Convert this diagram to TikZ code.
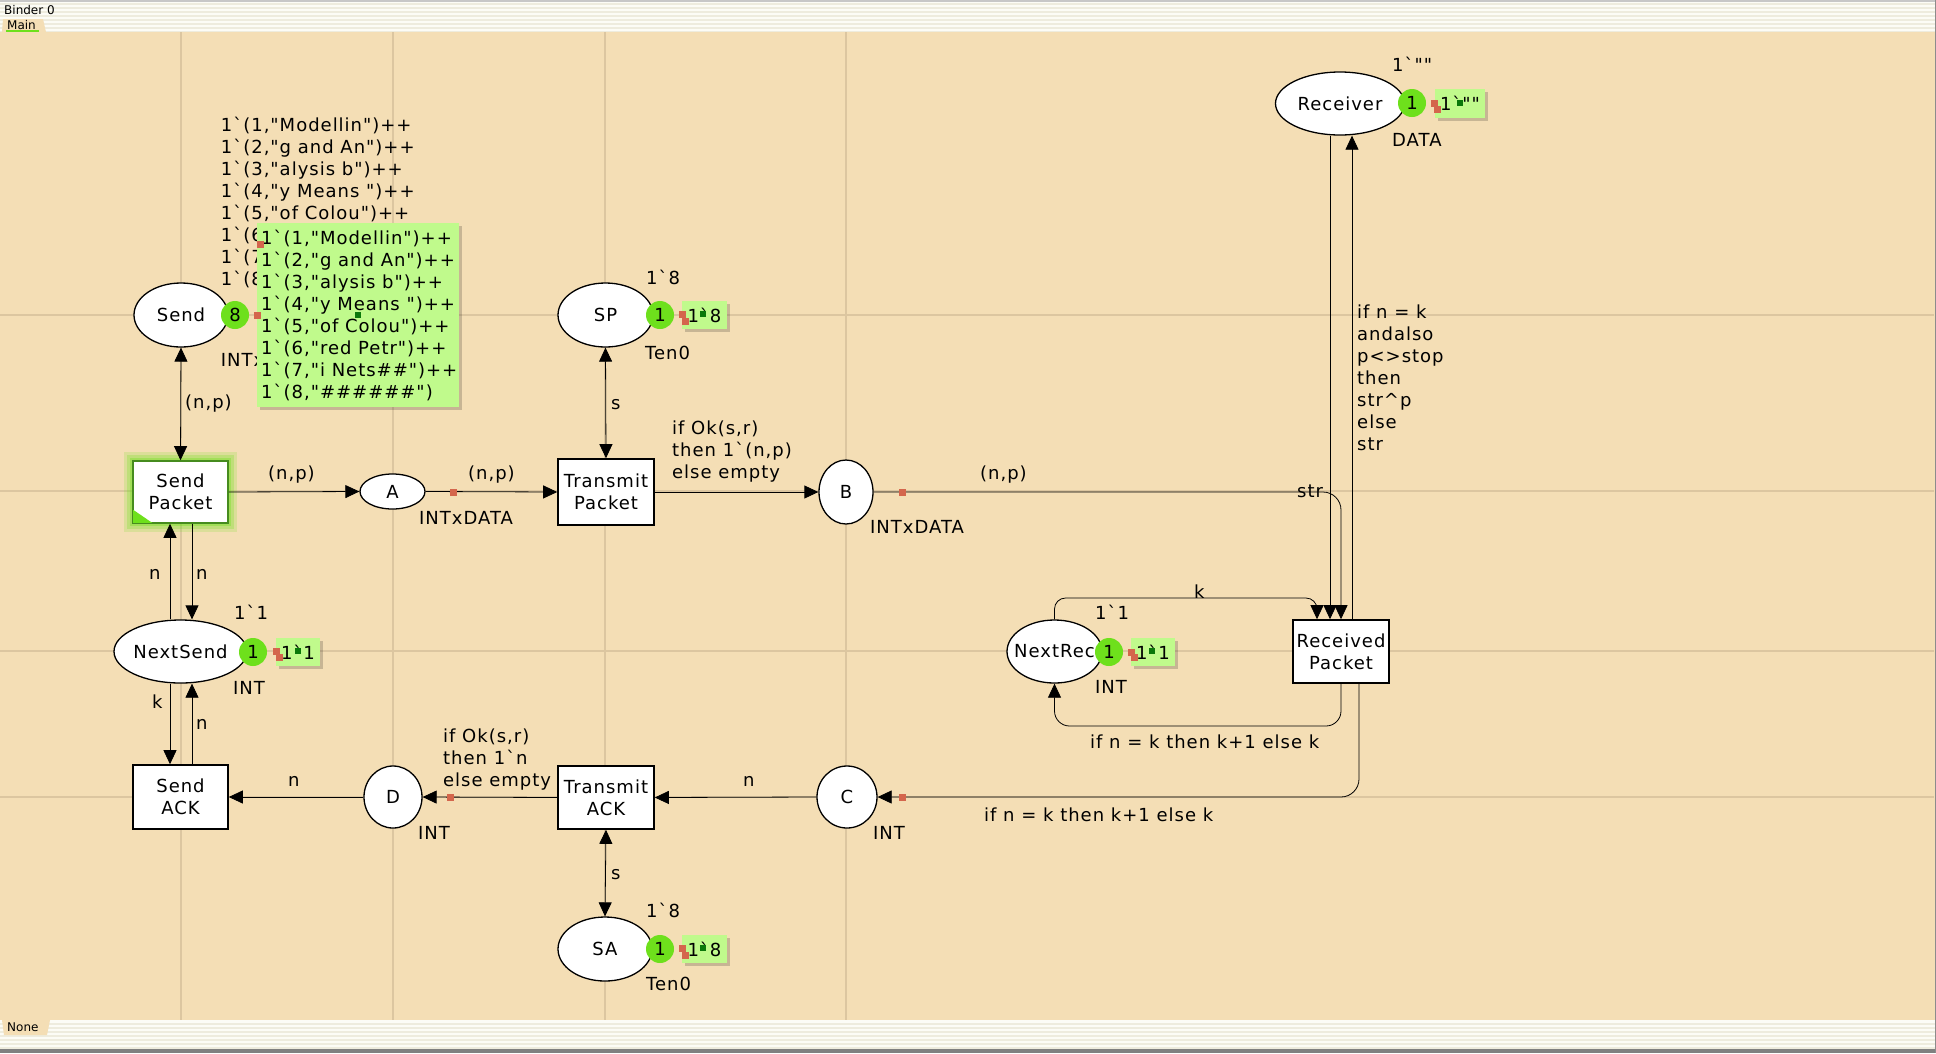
\documentclass[tikz,border=0pt]{standalone}
\usepackage{fontspec}
\setmainfont{DejaVu Sans}
\newfontfamily\cpnfont{DejaVu Sans}[LetterSpace=5.5]
\newfontfamily\barfont{DejaVu Sans}
\usetikzlibrary{arrows.meta,shapes.geometric,calc}
\definecolor{canvas}{RGB}{244,222,181}
\definecolor{gridc}{RGB}{220,198,160}
\definecolor{tokgreen}{RGB}{110,224,28}
\definecolor{markgreen}{RGB}{192,250,140}
\definecolor{handle}{RGB}{212,102,76}
\definecolor{dkhandle}{RGB}{10,120,10}
\definecolor{stripe}{RGB}{238,236,222}
\definecolor{barbg}{RGB}{252,252,246}
\definecolor{selgreen}{RGB}{70,140,30}
\newcommand\cpn{\cpnfont\fontsize{18}{22}\selectfont}
\newcommand\smallcpn{\barfont\fontsize{12}{14}\selectfont}
\newcommand\bq{\symbol{96}}
\tikzset{
  place/.style={ellipse, draw=black, line width=1.3pt, fill=white, inner sep=0pt, font=\cpn},
  trans/.style={rectangle, draw=black, line width=1.6pt, fill=white, inner sep=0pt, font=\cpn, align=center},
  token/.style={circle, fill=tokgreen, inner sep=0pt, minimum size=28pt, font=\cpn},
  markbox/.style={rectangle, fill=markgreen, inner sep=0pt, font=\cpn},
  lbl/.style={font=\cpn, inner sep=0pt, text height=13.1pt, text depth=0pt, anchor=west},
  mlbl/.style={font=\cpn, inner sep=0pt, align=left, anchor=north west},
  arc/.style={draw=black, line width=0.8pt},
}
\begin{document}
\begin{tikzpicture}[x=1pt, y=-1pt, >={Triangle[length=14pt,width=13pt]}]
\useasboundingbox (0,0) rectangle (1936,1053);
% window bars
\fill[barbg] (0,0) rectangle (1936,32);
\foreach \yy in {3,7,...,31} \fill[stripe] (0,\yy) rectangle (1936,\yy+2);
\fill[black!22] (0,0) rectangle (1936,1.5);
\fill[barbg] (0,1020) rectangle (1936,1049);
\foreach \yy in {1023,1027,...,1047} \fill[stripe] (0,\yy) rectangle (1936,\yy+2);
\fill[black!50] (0,1049) rectangle (1936,1053);
% canvas
\fill[canvas] (0,32) rectangle (1936,1020);
\fill[black!45] (1934.5,0) rectangle (1936,1053);
\fill[canvas] (2,32) -- (3,19) -- (43,19) -- (46,32) -- cycle;
\node[anchor=west, inner sep=0pt, font=\smallcpn] (binder) at (4,10) {Binder 0};
\node[anchor=west, inner sep=0pt, font=\smallcpn] (maintab) at (7,25) {Main};
\draw[tokgreen, line width=1.5pt] (6,31) -- (39,31);
\fill[canvas] (2,1020) -- (50,1020) -- (47,1035) -- (4,1035) -- cycle;
\node[anchor=west, inner sep=0pt, font=\smallcpn] (nonetab) at (7,1027) {None};
% guide lines
\foreach \xx in {181,393,605,846} \draw[gridc, line width=1.2pt] (\xx,32) -- (\xx,1020);
\foreach \yy in {315,491,651,797} \draw[gridc, line width=1.2pt] (0,\yy) -- (1934,\yy);

% Send Packet glow
\fill[tokgreen, opacity=0.18] (124,452) rectangle (237,532);
\fill[tokgreen, opacity=0.25] (127,455) rectangle (234,529);
\fill[tokgreen, opacity=0.35] (130,458) rectangle (231,526);

% ---------- places ----------
\node[place, minimum width=94pt, minimum height=64pt] (send) at (181,315) {\makebox[0pt]{Send}};
\node[place, minimum width=95pt, minimum height=64pt] (spp) at (605.5,315) {\makebox[0pt]{SP}};
\node[place, minimum width=65pt, minimum height=35pt] (A) at (392.5,491.5) {\makebox[0pt]{A}};
\node[place, minimum width=54pt, minimum height=64pt] (B) at (846,492) {\makebox[0pt]{B}};
\node[place, minimum width=60pt, minimum height=62pt] (C) at (847,797) {\makebox[0pt]{C}};
\node[place, minimum width=58pt, minimum height=62pt] (D) at (393,797) {\makebox[0pt]{D}};
\node[place, minimum width=133pt, minimum height=63pt] (ns) at (180.5,651.5) {\makebox[0pt]{NextSend}};
\node[place, minimum width=95pt, minimum height=63pt] (nr) at (1054.5,651.5) {\makebox[0pt]{NextRec}};
\node[place, minimum width=94pt, minimum height=64pt] (sa) at (605,949) {\makebox[0pt]{SA}};
\node[place, minimum width=129pt, minimum height=63pt] (recv) at (1340,103.5) {\makebox[0pt]{Receiver}};

% ---------- transitions ----------
\node[trans, draw=selgreen, minimum width=95pt, minimum height=62pt] (spk) at (180.5,492) {Send\\Packet};
\fill[tokgreen] ([shift={(1,-1)}]spk.south west) -- ++(0,-13) -- ++(19,13) -- cycle;
\node[trans, minimum width=95pt, minimum height=64pt] (sack) at (180.5,797) {Send\\ACK};
\node[trans, minimum width=96pt, minimum height=66pt] (tp) at (606,492) {Transmit\\Packet};
\node[trans, minimum width=96pt, minimum height=63pt] (ta) at (606,797.5) {Transmit\\ACK};
\node[trans, minimum width=96pt, minimum height=63pt] (rp) at (1341,651.5) {Received\\Packet};

% ---------- arcs ----------
\draw[arc,<->] (send.south) -- (spk.north);
\draw[arc,->] (spk.east) -- (A.west);
\draw[arc,->] (A.east) -- (tp.west);
\draw[arc,<->] (spp.south) -- (tp.north);
\draw[arc,->] (tp.east) -- (B.west);
\draw[arc,->,rounded corners=18pt] (B.east) -| (rp.north);
\coordinate (rpL) at ([xshift=-11pt]rp.north);
\coordinate (rpR) at ([xshift=11pt]rp.north);
\draw[arc,->] (rpL |- recv.south) -- (rpL);
\draw[arc,->] (rpR) -- (rpR |- recv.south);
\coordinate (kb) at (1317,598);
\draw[arc,->,rounded corners=11pt] (nr.north) |- (kb) -- ([xshift=-24pt]rp.north);
\coordinate (nb) at (1341,726);
\draw[arc,->,rounded corners=15pt] (rp.south) -- (nb) -| (nr.south);
\draw[arc,->,rounded corners=18pt] ([xshift=18pt]rp.south) |- (C.east);
\draw[arc,->] (C.west) -- (ta.east);
\draw[arc,<->] (ta.south) -- (sa.north);
\draw[arc,->] (ta.west) -- (D.east);
\draw[arc,->] (D.west) -- (sack.east);
\draw[arc,->] ([xshift=-10.5pt]ns.north) -- ([xshift=-10.5pt]spk.south);
\draw[arc,->] ([xshift=11.5pt]spk.south) -- ([xshift=11.5pt]ns.north);
\draw[arc,->] ([xshift=-10.5pt]ns.south) -- ([xshift=-10.5pt]sack.north);
\draw[arc,->] ([xshift=11.5pt]sack.north) -- ([xshift=11.5pt]ns.south);

% ---------- arc inscriptions ----------
\node[lbl] (l1) at (185,402) {(n,p)};
\node[lbl] (l2) at (268,473) {(n,p)};
\node[lbl] (l3) at (468,473) {(n,p)};
\node[lbl] (l4) at (611,403) {s};
\node[mlbl] (l5) at (672,419.2) {\strut if Ok(s,r)\\\strut then 1\bq(n,p)\\\strut else empty};
\node[lbl] (l6) at (980,473) {(n,p)};
\node[lbl] (l7) at (1297,491) {str};
\node[mlbl] (l8) at (1357,303.2) {\strut if n = k\\\strut andalso\\\strut p<>stop\\\strut then\\\strut str\textasciicircum p\\\strut else\\\strut str};
\node[lbl] (l9) at (1194,592) {k};
\node[lbl] (l10) at (1090,742) {if n = k then k+1 else k};
\node[lbl] (l11) at (984,815) {if n = k then k+1 else k};
\node[lbl] (l12) at (743,780) {n};
\node[mlbl] (l13) at (443,727.2) {\strut if Ok(s,r)\\\strut then 1\bq n\\\strut else empty};
\node[lbl] (l14) at (288,780) {n};
\node[lbl] (l15) at (611,873) {s};
\node[lbl] (l16) at (149,573) {n};
\node[lbl] (l17) at (196,573) {n};
\node[lbl] (l18) at (152,702) {k};
\node[lbl] (l19) at (196,723) {n};

% ---------- place inscriptions ----------
\node[mlbl] (sendim) at (220.7,116.2) {\strut 1\bq(1,"Modellin")++\\\strut 1\bq(2,"g and An")++\\\strut 1\bq(3,"alysis b")++\\\strut 1\bq(4,"y Means ")++\\\strut 1\bq(5,"of Colou")++\\\strut 1\bq(6,"red Petr")++\\\strut 1\bq(7,"i Nets\#\#")++\\\strut 1\bq(8,"\#\#\#\#\#\#")};
\node[lbl] (sendty) at (220.7,360) {INTxDATA};
\node[lbl] (sppim) at (646,278) {1\bq8};
\node[lbl] (sppty) at (645,353) {Ten0};
\node[lbl] (Aty) at (419,518) {INTxDATA};
\node[lbl] (Bty) at (870,527) {INTxDATA};
\node[lbl] (Cty) at (873,833) {INT};
\node[lbl] (Dty) at (418,833) {INT};
\node[lbl] (nsim) at (234,613) {1\bq1};
\node[lbl] (nsty) at (233,688) {INT};
\node[lbl] (nrim) at (1095,613) {1\bq1};
\node[lbl] (nrty) at (1095,687) {INT};
\node[lbl] (saim) at (646,911) {1\bq8};
\node[lbl] (saty) at (646,984) {Ten0};
\node[lbl] (recvim) at (1392,65) {1\bq""};
\node[lbl] (recvty) at (1392,140) {DATA};

% ---------- tokens ----------
\node[token] (t1) at (235,315) {8};
\node[token] (t2) at (660,315) {1};
\node[token] (t3) at (253,652) {1};
\node[token] (t4) at (1109,652) {1};
\node[token] (t5) at (660,949) {1};
\node[token] (t6) at (1412,103) {1};

% ---------- current markings ----------
\fill[black, opacity=0.18] (260,226) rectangle (462,410);
\node[markbox, minimum width=202pt, minimum height=184pt] (m1) at (358,315) {};
\node[mlbl] (m1t) at (261,229.2) {\strut 1\bq(1,"Modellin")++\\\strut 1\bq(2,"g and An")++\\\strut 1\bq(3,"alysis b")++\\\strut 1\bq(4,"y Means ")++\\\strut 1\bq(5,"of Colou")++\\\strut 1\bq(6,"red Petr")++\\\strut 1\bq(7,"i Nets\#\#")++\\\strut 1\bq(8,"\#\#\#\#\#\#")};
\fill[black, opacity=0.18] (685,304) rectangle (730,332);
\node[markbox, minimum width=45pt, minimum height=28pt] (m2) at (704.5,315) {1\bq8};
\fill[black, opacity=0.18] (279,641) rectangle (323,669);
\node[markbox, minimum width=44pt, minimum height=28pt] (m3) at (298,652) {1\bq1};
\fill[black, opacity=0.18] (1134,641) rectangle (1178,669);
\node[markbox, minimum width=44pt, minimum height=28pt] (m4) at (1153,652) {1\bq1};
\fill[black, opacity=0.18] (685,938) rectangle (730,966);
\node[markbox, minimum width=45pt, minimum height=28pt] (m5) at (704.5,949) {1\bq8};
\fill[black, opacity=0.18] (1438,92) rectangle (1488,121);
\node[markbox, minimum width=50pt, minimum height=29pt] (m6) at (1460,103.5) {1\bq""};

% ---------- handles ----------
\foreach \hx/\hy in {453/492, 902/492, 902/797, 450/797, 257/315, 260/244, 682/314, 685/321, 276/651, 279/657, 1131/652, 1134/657, 682/948, 685/955, 1434/103, 1437/109}
  \fill[handle] (\hx-3.5,\hy-3.5) rectangle (\hx+3.5,\hy+3.5);
\foreach \hx/\hy in {358/315, 703/314, 298/651, 1152/651, 703/948, 1460/103}
  \fill[dkhandle] (\hx-3,\hy-3) rectangle (\hx+3,\hy+3);
\end{tikzpicture}
\end{document}
